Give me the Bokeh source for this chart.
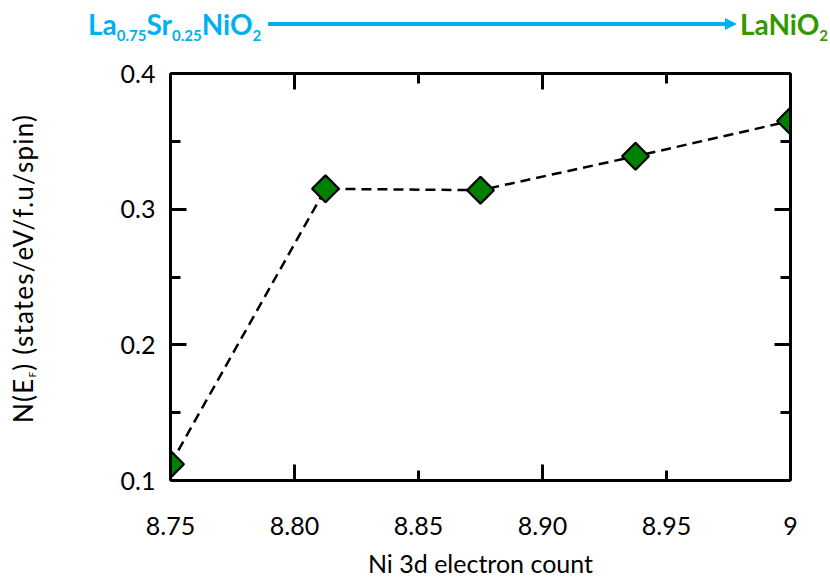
import numpy as np
from bokeh.plotting import figure
from bokeh.layouts import row, column
from bokeh.models import (Range1d, FixedTicker, LinearAxis, CustomJSTickFormatter,
                          ColumnDataSource, Div)
from bokeh.embed import file_html
from bokeh.resources import INLINE

# ---- data ----
ni3d_count = [8.75, 8.8125, 8.875, 8.9375, 9.0]
n_ef = [0.112, 0.315, 0.314, 0.339, 0.365]

x_ticks = [8.75, 8.80, 8.85, 8.90, 8.95, 9.0]
x_tick_labels = ["8.75", "8.80", "8.85", "8.90", "8.95", "9"]
x_long_ticks = [8.80, 8.90]
y_ticks = [0.1, 0.2, 0.3, 0.4]
y_tick_labels = ["0.1", "0.2", "0.3", "0.4"]
y_minor_ticks = [0.15, 0.25, 0.35]

x_title = "Ni 3d electron count"
y_title_html = "N(E<sub>F</sub>) (states/eV/f.u/spin)"
start_html = "La<sub>0.75</sub>Sr<sub>0.25</sub>NiO<sub>2</sub>"
end_html = "LaNiO<sub>2</sub>"

# ---- layout (page pixels) ----
TOTAL_W, TOTAL_H = 830, 580
LEFT_W = 50          # y-title strip
HEAD_H = 48          # header strip
FONT = "Lato"
BLUE = "#00B0F0"
GREEN_TXT = "#339900"

# ---------------- main plot ----------------
MW, MH = TOTAL_W - LEFT_W, TOTAL_H - HEAD_H
FL, FR, FT, FB = 170 - LEFT_W, 790 - LEFT_W, 73 - HEAD_H, 481 - HEAD_H

p = figure(width=MW, height=MH, output_backend="svg", toolbar_location=None,
           x_range=Range1d(x_ticks[0], x_ticks[-1]), y_range=Range1d(y_ticks[0], y_ticks[-1]),
           min_border_left=FL, min_border_right=MW - FR,
           min_border_top=FT, min_border_bottom=MH - FB, margin=0)
p.xgrid.visible = False
p.ygrid.visible = False
p.outline_line_color = None
p.background_fill_color = "white"
p.border_fill_color = "white"

fmt_code = """
let b = 0;
for (let i = 0; i < tv.length; i++) {
  if (Math.abs(tv[i] - tick) < Math.abs(tv[b] - tick)) b = i;
}
return tl[b];
"""
xfmt = CustomJSTickFormatter(args=dict(tv=x_ticks, tl=x_tick_labels), code=fmt_code)
yfmt = CustomJSTickFormatter(args=dict(tv=y_ticks, tl=y_tick_labels), code=fmt_code)
blank = CustomJSTickFormatter(code="return ''")

xticker = FixedTicker(ticks=x_ticks, minor_ticks=x_long_ticks)
yticker = FixedTicker(ticks=y_ticks, minor_ticks=y_minor_ticks)


def style_axis(ax, ticker, major_len, minor_len):
    ax.ticker = ticker
    ax.axis_line_width = 3
    ax.major_tick_line_width = 3
    ax.minor_tick_line_width = 3
    ax.major_tick_in = major_len
    ax.major_tick_out = 0
    ax.minor_tick_in = minor_len
    ax.minor_tick_out = 0
    ax.axis_line_color = "black"
    ax.major_tick_line_color = "black"
    ax.minor_tick_line_color = "black"


xb = p.xaxis[0]
style_axis(xb, xticker, 10, 16)
xb.formatter = xfmt
xb.major_label_standoff = 36
xb.major_label_text_font = FONT
xb.major_label_text_font_size = "25px"
xb.major_label_text_color = "black"
xb.axis_label = x_title
xb.axis_label_text_font = FONT
xb.axis_label_text_font_size = "25px"
xb.axis_label_text_font_style = "normal"
xb.axis_label_text_color = "black"
xb.axis_label_standoff = 10

yl = p.yaxis[0]
style_axis(yl, yticker, 16, 10)
yl.formatter = yfmt
yl.major_label_standoff = 15
yl.major_label_text_font = FONT
yl.major_label_text_font_size = "25px"
yl.major_label_text_color = "black"

xt = LinearAxis()
style_axis(xt, xticker, 10, 16)
xt.formatter = blank
xt.major_label_standoff = 0
p.add_layout(xt, "above")

yr = LinearAxis()
style_axis(yr, yticker, 16, 10)
yr.formatter = blank
yr.major_label_standoff = 0
p.add_layout(yr, "right")

src = ColumnDataSource(dict(x=ni3d_count, y=n_ef))
p.line("x", "y", source=src, line_color="black", line_width=2.5, line_dash="10 6")
p.scatter("x", "y", source=src, marker="square", angle=np.pi / 4, size=19,
          fill_color="#008000", line_color="black", line_width=2.2)

# ---------------- y title strip (HTML text) ----------------
ytitle = (
    f'<div style="position:relative;width:{LEFT_W}px;height:{TOTAL_H}px;overflow:visible;">'
    f'<div style="position:absolute;left:10px;top:423px;transform:rotate(-90deg);'
    f'transform-origin:left top;white-space:nowrap;font-family:{FONT};font-size:26px;'
    f'line-height:26px;color:black;letter-spacing:1.2px;">'
    + y_title_html.replace("<sub>", '<sub style="font-size:10px;vertical-align:-3px;line-height:0;">')
    + '</div></div>'
)
yf = Div(text=ytitle, width=LEFT_W, height=TOTAL_H, margin=0)

# ---------------- header strip (HTML text + arrow) ----------------
sub_style = '<sub style="font-size:15px;vertical-align:-6px;line-height:0;">'
span_style = (f"position:absolute;top:10px;white-space:nowrap;font-family:{FONT};"
              "font-size:28px;line-height:28px;font-weight:bold;")
head = (
    f'<div style="position:relative;width:{MW}px;height:{HEAD_H}px;overflow:visible;">'
    f'<span style="{span_style}left:{88 - LEFT_W}px;color:{BLUE};">'
    + start_html.replace("<sub>", sub_style) + '</span>'
    f'<div style="position:absolute;left:{268 - LEFT_W}px;top:22px;width:{727 - 268}px;'
    f'height:4px;background:{BLUE};"></div>'
    f'<div style="position:absolute;left:{725 - LEFT_W}px;top:18px;width:0;height:0;'
    f'border-top:6px solid transparent;border-bottom:6px solid transparent;'
    f'border-left:12px solid {BLUE};"></div>'
    f'<span style="{span_style}left:{740 - LEFT_W}px;color:{GREEN_TXT};">'
    + end_html.replace("<sub>", sub_style) + '</span>'
    '</div>'
)
hf = Div(text=head, width=MW, height=HEAD_H, margin=0)

layout = row(yf, column(hf, p, spacing=0, margin=0), spacing=0, margin=0)
open("out.html", "w").write(file_html(layout, INLINE))
